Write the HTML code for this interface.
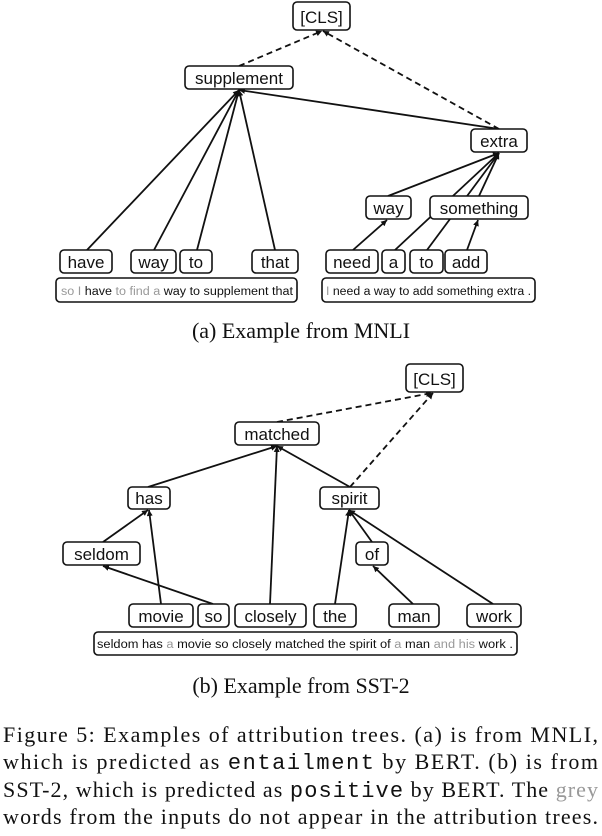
<!DOCTYPE html>
<html><head><meta charset="utf-8"><style>
html,body{margin:0;padding:0;background:#fff;}
svg{display:block;}
.n rect{fill:#fff;stroke:#111;stroke-width:1.6;}
.n text{font-family:"Liberation Sans",sans-serif;font-size:17px;fill:#111;text-anchor:middle;}
.s{font-family:"Liberation Sans",sans-serif;font-size:11.5px;fill:#111;}
.g{fill:#999;}
.cap{font-family:"Liberation Serif",serif;font-size:22px;fill:#111;}
.mono{font-family:"Liberation Mono",monospace;}
line{stroke:#111;stroke-width:1.8;}
.d{stroke-dasharray:6,4;}
</style></head><body>
<svg width="602" height="836" viewBox="0 0 602 836" xmlns="http://www.w3.org/2000/svg">
<defs><marker id="a" markerWidth="8" markerHeight="8" refX="6" refY="3" orient="auto" markerUnits="userSpaceOnUse"><path d="M0,0 L6,3 L0,6 z" fill="#111"/></marker></defs>
<line class="d" x1="239" y1="66" x2="322" y2="31" marker-end="url(#a)"/>
<line class="d" x1="499" y1="129" x2="323" y2="31" marker-end="url(#a)"/>
<line x1="499" y1="129" x2="239" y2="90" marker-end="url(#a)"/>
<line x1="87" y1="250" x2="239" y2="90" marker-end="url(#a)"/>
<line x1="154" y1="250" x2="239" y2="90" marker-end="url(#a)"/>
<line x1="197" y1="250" x2="239" y2="90" marker-end="url(#a)"/>
<line x1="275" y1="250" x2="239" y2="90" marker-end="url(#a)"/>
<line x1="388" y1="196" x2="499" y2="153" marker-end="url(#a)"/>
<line x1="395" y1="250" x2="499" y2="153" marker-end="url(#a)"/>
<line x1="427" y1="250" x2="499" y2="153" marker-end="url(#a)"/>
<line x1="479" y1="196" x2="499" y2="153" marker-end="url(#a)"/>
<line x1="353" y1="250" x2="387" y2="220" marker-end="url(#a)"/>
<line x1="467" y1="250" x2="478" y2="220" marker-end="url(#a)"/>
<g class="n">
<rect x="293" y="2" width="57" height="28" rx="4"/><text x="321.5" y="23">[CLS]</text>
<rect x="185" y="66" width="108" height="23" rx="4"/><text x="239" y="84">supplement</text>
<rect x="471" y="129" width="56" height="23" rx="4"/><text x="499" y="147">extra</text>
<rect x="366" y="196" width="45" height="23" rx="4"/><text x="388.5" y="214">way</text>
<rect x="430" y="196" width="98" height="23" rx="4"/><text x="479" y="214">something</text>
<rect x="60" y="250" width="52" height="23" rx="4"/><text x="86" y="268">have</text>
<rect x="131" y="250" width="45" height="23" rx="4"/><text x="153.5" y="268">way</text>
<rect x="180" y="250" width="32" height="23" rx="4"/><text x="196" y="268">to</text>
<rect x="252" y="250" width="46" height="23" rx="4"/><text x="275" y="268">that</text>
<rect x="326" y="250" width="52" height="23" rx="4"/><text x="352" y="268">need</text>
<rect x="382" y="250" width="23" height="23" rx="4"/><text x="393.5" y="268">a</text>
<rect x="410" y="250" width="33" height="23" rx="4"/><text x="426.5" y="268">to</text>
<rect x="445" y="250" width="42" height="23" rx="4"/><text x="466" y="268">add</text>
<rect x="56" y="278" width="241" height="24" rx="4"/>
<rect x="322" y="278" width="213" height="24" rx="4"/>
</g>
<text class="s" x="61" y="295" textLength="232" lengthAdjust="spacingAndGlyphs"><tspan class="g">so I</tspan> have <tspan class="g">to find a</tspan> way to supplement that</text>
<text class="s" x="326" y="295" textLength="205" lengthAdjust="spacingAndGlyphs"><tspan class="g">I</tspan> need a way to add something extra .</text>
<text class="cap" x="301" y="338" text-anchor="middle">(a) Example from MNLI</text>
<line class="d" x1="277" y1="422" x2="432" y2="393" marker-end="url(#a)"/>
<line class="d" x1="350" y1="487" x2="433" y2="393" marker-end="url(#a)"/>
<line x1="148" y1="487" x2="277" y2="446" marker-end="url(#a)"/>
<line x1="270" y1="604" x2="277" y2="446" marker-end="url(#a)"/>
<line x1="350" y1="487" x2="277" y2="446" marker-end="url(#a)"/>
<line x1="103" y1="542" x2="148" y2="510" marker-end="url(#a)"/>
<line x1="161" y1="604" x2="149" y2="510" marker-end="url(#a)"/>
<line x1="213" y1="604" x2="103" y2="566" marker-end="url(#a)"/>
<line x1="335" y1="604" x2="349" y2="510" marker-end="url(#a)"/>
<line x1="372" y1="542" x2="349" y2="510" marker-end="url(#a)"/>
<line x1="493" y1="604" x2="349" y2="510" marker-end="url(#a)"/>
<line x1="413" y1="604" x2="373" y2="566" marker-end="url(#a)"/>
<g class="n">
<rect x="406" y="364" width="57" height="28" rx="4"/><text x="434.5" y="385">[CLS]</text>
<rect x="235" y="422" width="84" height="23" rx="4"/><text x="277" y="440">matched</text>
<rect x="128" y="487" width="42" height="22" rx="4"/><text x="149" y="504">has</text>
<rect x="320" y="487" width="59" height="22" rx="4"/><text x="349.5" y="504">spirit</text>
<rect x="63" y="542" width="77" height="23" rx="4"/><text x="101.5" y="560">seldom</text>
<rect x="356" y="542" width="32" height="23" rx="4"/><text x="372" y="560">of</text>
<rect x="129" y="604" width="64" height="23" rx="4"/><text x="161" y="622">movie</text>
<rect x="198" y="604" width="31" height="23" rx="4"/><text x="213.5" y="622">so</text>
<rect x="235" y="604" width="71" height="23" rx="4"/><text x="270.5" y="622">closely</text>
<rect x="314" y="604" width="42" height="23" rx="4"/><text x="335" y="622">the</text>
<rect x="389" y="604" width="50" height="23" rx="4"/><text x="414" y="622">man</text>
<rect x="467" y="604" width="54" height="23" rx="4"/><text x="494" y="622">work</text>
<rect x="94" y="632" width="423" height="23" rx="4"/>
</g>
<text class="s" x="97" y="648" textLength="416" lengthAdjust="spacingAndGlyphs">seldom has <tspan class="g">a</tspan> movie so closely matched the spirit of <tspan class="g">a</tspan> man <tspan class="g">and his</tspan> work .</text>
<text class="cap" x="301" y="693" text-anchor="middle">(b) Example from SST-2</text>
<text class="cap" font-size="23.5" x="3" y="742" textLength="595" lengthAdjust="spacing">Figure 5: Examples of attribution trees. (a) is from MNLI,</text>
<text class="cap" font-size="23.5" x="3" y="769" textLength="595" lengthAdjust="spacing">which is predicted as <tspan class="mono">entailment</tspan> by BERT. (b) is from</text>
<text class="cap" font-size="23.5" x="3" y="797" textLength="595" lengthAdjust="spacing">SST-2, which is predicted as <tspan class="mono">positive</tspan> by BERT. The <tspan fill="#999">grey</tspan></text>
<text class="cap" font-size="23.5" x="3" y="824" textLength="595" lengthAdjust="spacing">words from the inputs do not appear in the attribution trees.</text>
</svg>
</body></html>
